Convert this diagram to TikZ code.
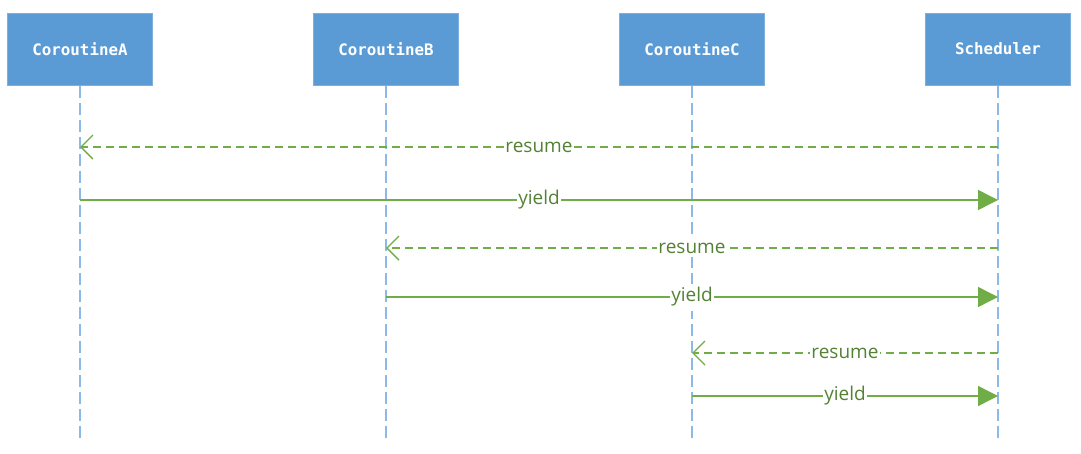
\documentclass[tikz,border=0pt]{standalone}
\usepackage{fontspec}
\setmainfont{Open Sans}
\newfontfamily\boxfont{DejaVu Sans Mono}
\usetikzlibrary{arrows.meta}
\definecolor{boxblue}{HTML}{5B9BD5}
\definecolor{lifeblue}{HTML}{8DB9E6}
\definecolor{msggreen}{HTML}{70AD47}
\definecolor{labgreen}{HTML}{548235}
\tikzset{
  actor/.style={fill=boxblue, draw=boxblue!80!white, line width=1pt, minimum width=145pt, minimum height=72pt, inner sep=0pt, text=white, font=\boxfont\bfseries\fontsize{15.8}{18}\selectfont},
  lifeline/.style={draw=lifeblue, line width=1.8pt, dash pattern=on 12pt off 5pt},
  callmsg/.style={draw=msggreen, line width=1.4pt, -{Triangle[length=20pt,width=20pt]}},
  retmsg/.style={draw=msggreen, line width=1.4pt, dash pattern=on 8pt off 5pt, -{Straight Barb[length=12pt,width=24pt,line width=1.4pt]}},
  msglabel/.style={fill=white, inner xsep=1.5pt, inner ysep=4pt, text=labgreen, font=\fontsize{19}{21}\selectfont}
}
\begin{document}
\begin{tikzpicture}[x=1pt,y=-1pt]
\useasboundingbox (0,0) rectangle (1081,453);
\node[actor] (A) at (80,49) {CoroutineA};
\node[actor] (B) at (386,49) {CoroutineB};
\node[actor] (C) at (692,49) {CoroutineC};
\node[actor] (S) at (998,49) {Scheduler};
\foreach \n/\x in {A/80,B/386,C/692,S/998}{
  \coordinate (\n end) at (\x,438);
  \draw[lifeline] (\n.south) -- (\n end);
}
% messages
\coordinate (a1) at (80,147);   \coordinate (s1) at (998,147);
\coordinate (a2) at (80,200);   \coordinate (s2) at (998,200);
\coordinate (b3) at (386,248);  \coordinate (s3) at (998,248);
\coordinate (b4) at (386,297);  \coordinate (s4) at (998,297);
\coordinate (c5) at (692,353);  \coordinate (s5) at (998,353);
\coordinate (c6) at (692,396);  \coordinate (s6) at (998,396);
\draw[retmsg] (s1) -- (a1) node[msglabel, midway] (l1) {resume};
\draw[callmsg] (a2) -- (s2) node[msglabel, midway] (l2) {yield};
\draw[retmsg] (s3) -- (b3) node[msglabel, midway] (l3) {resume};
\draw[callmsg] (b4) -- (s4) node[msglabel, midway] (l4) {yield};
\draw[retmsg] (s5) -- (c5) node[msglabel, midway] (l5) {resume};
\draw[callmsg] (c6) -- (s6) node[msglabel, midway] (l6) {yield};
\end{tikzpicture}
\end{document}
